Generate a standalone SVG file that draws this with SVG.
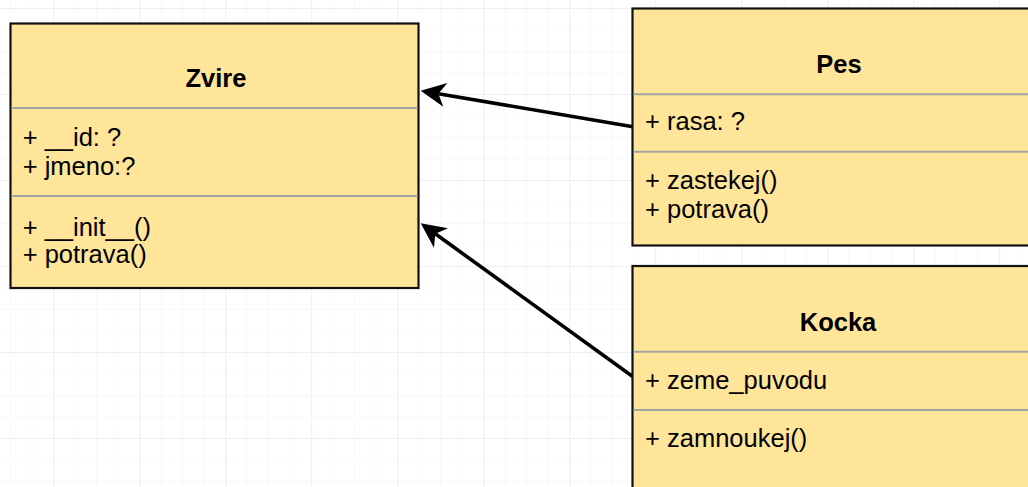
<svg xmlns="http://www.w3.org/2000/svg" width="1028" height="487" viewBox="0 0 1028 487">
<style>
.box{fill:#ffe599;stroke:#111;stroke-width:2.2}
.sep{stroke:#a3a3a3;stroke-width:2}
.t{font-family:"Liberation Sans",Arial,sans-serif;font-size:25.5px;fill:#000}
.title{font-weight:bold;text-anchor:middle}
.edge{stroke:#000;stroke-width:3.6;fill:none}
</style>
<defs>
<pattern id="minor" x="10" y="8" width="21.5" height="21.5" patternUnits="userSpaceOnUse">
<path d="M0,0 H21.5 M0,0 V21.5" stroke="#f1f1f1" stroke-width="1" fill="none"/>
</pattern>
<pattern id="major" x="53.3" y="8" width="86" height="86" patternUnits="userSpaceOnUse">
<path d="M0,0 H86 M0,0 V86" stroke="#e3e3e3" stroke-width="1" fill="none"/>
</pattern>
<marker id="arrow" markerUnits="userSpaceOnUse" viewBox="-8 -13 28 26" markerWidth="28" markerHeight="26" refX="0" refY="0" orient="auto">
<path d="M18,0 L-7,-12 L0,0 L-7,12 Z" fill="#000"/>
</marker>
</defs>
<rect width="1028" height="487" fill="#fff"/>
<rect width="1028" height="487" fill="url(#minor)"/>
<rect width="1028" height="487" fill="url(#major)"/>

<g id="connectors">
<line class="edge" x1="633" y1="126.7" x2="438.4" y2="93.7" marker-end="url(#arrow)"/>
<line class="edge" x1="633" y1="376.7" x2="435.3" y2="233.8" marker-end="url(#arrow)"/>
</g>

<g id="zvire">
<rect class="box" x="10.5" y="23.5" width="408" height="264.5"/>
<line class="sep" x1="11.5" y1="108" x2="417.5" y2="108"/>
<line class="sep" x1="11.5" y1="196" x2="417.5" y2="196"/>
<text class="t title" x="216" y="87">Zvire</text>
<text class="t" x="22.7" y="145.5">+ __id: ?</text>
<text class="t" x="22.7" y="175">+ jmeno:?</text>
<text class="t" x="22.7" y="235.5">+ __init__()</text>
<text class="t" x="22.7" y="262.5">+ potrava()</text>
</g>

<g id="pes">
<rect class="box" x="632.5" y="8.5" width="420" height="237"/>
<line class="sep" x1="633.5" y1="94.3" x2="1028" y2="94.3"/>
<line class="sep" x1="633.5" y1="151.7" x2="1028" y2="151.7"/>
<text class="t title" x="839" y="72.5">Pes</text>
<text class="t" x="645" y="130">+ rasa: ?</text>
<text class="t" x="645" y="189">+ zastekej()</text>
<text class="t" x="645" y="218">+ potrava()</text>
</g>

<g id="kocka">
<rect class="box" x="632.5" y="266" width="420" height="260"/>
<line class="sep" x1="633.5" y1="351.7" x2="1028" y2="351.7"/>
<line class="sep" x1="633.5" y1="410" x2="1028" y2="410"/>
<text class="t title" x="838" y="331">Kocka</text>
<text class="t" x="645" y="389">+ zeme_puvodu</text>
<text class="t" x="645" y="446.5">+ zamnoukej()</text>
</g>
</svg>
